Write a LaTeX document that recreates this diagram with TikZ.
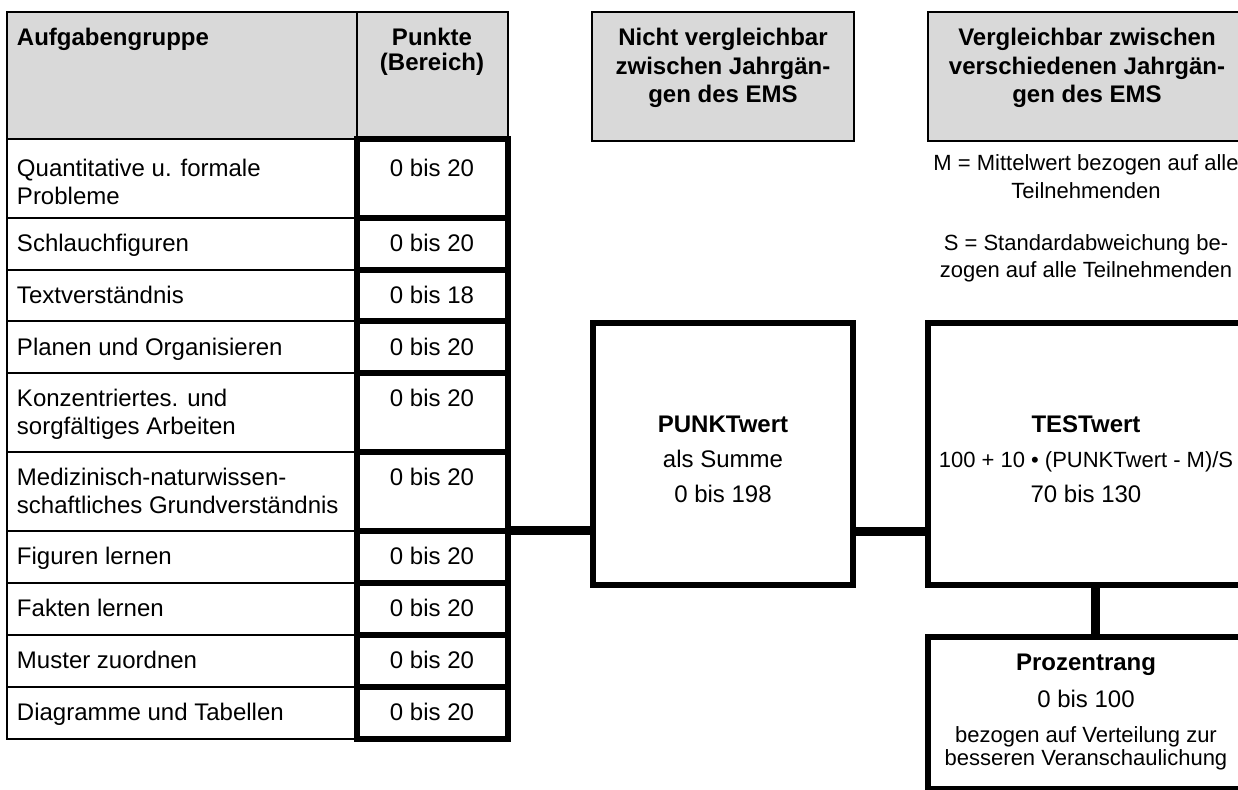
\documentclass[tikz,border=0pt]{standalone}
\usepackage{fontspec}
\setmainfont{Liberation Sans}
\definecolor{hdrgray}{RGB}{217,217,217}
\begin{document}
\begin{tikzpicture}[x=0.5pt,y=-0.5pt,
  every node/.style={inner sep=0pt, outer sep=0pt},
  hdrcell/.style={draw, line width=1pt, fill=hdrgray, rectangle},
  leftcell/.style={draw, line width=0.85pt, rectangle, minimum width=175pt},
  ptcell/.style={draw, line width=2.6pt, rectangle, minimum width=75.5pt},
  bigbox/.style={draw, line width=2.8pt, rectangle, fill=white},
  conn/.style={line width=4.5pt},
  txtreg/.style={font=\fontsize{12}{14}\selectfont},
  txtsmall/.style={font=\fontsize{11}{13}\selectfont},
  txtbold/.style={font=\fontsize{12}{14}\selectfont\bfseries},
]
\useasboundingbox (0,0) rectangle (1238,790);
\clip (0,0) rectangle (1238,790);

% header cells
\node[hdrcell, minimum width=175pt, minimum height=63.5pt] (hA) at (182,75.5) {};
\node[hdrcell, minimum width=75.5pt, minimum height=63.5pt] (hP) at (432.5,75.5) {};
\node[hdrcell, minimum width=131pt, minimum height=64.5pt] (hN) at (723,76.5) {};
\node[hdrcell, minimum width=159pt, minimum height=64.5pt] (hV) at (1087,76.5) {};

\node[txtbold, anchor=base west] (tA) at (17,46) {Aufgabengruppe};
\node[txtbold, anchor=base] (tP1) at (432,46) {Punkte};
\node[txtbold, anchor=base] (tP2) at (432,71) {(Bereich)};
\node[txtbold, anchor=base] (tN1) at (723,46) {Nicht vergleichbar};
\node[txtbold, anchor=base] (tN2) at (723,74.5) {zwischen Jahrgän-};
\node[txtbold, anchor=base] (tN3) at (723,103) {gen des EMS};
\node[txtbold, anchor=base] (tV1) at (1087,46) {Vergleichbar zwischen};
\node[txtbold, anchor=base] (tV2) at (1087,74.5) {verschiedenen Jahrgän-};
\node[txtbold, anchor=base] (tV3) at (1087,103) {gen des EMS};

% notes
\node[txtsmall, anchor=base] (m1) at (1086,170.5) {M = Mittelwert bezogen auf alle};
\node[txtsmall, anchor=base] (m2) at (1086,198.5) {Teilnehmenden};
\node[txtsmall, anchor=base] (s1) at (1086,250.5) {S = Standardabweichung be-};
\node[txtsmall, anchor=base] (s2) at (1086,277.5) {zogen auf alle Teilnehmenden};

% table rows
\foreach \i/\c/\h in {1/178.5/39.5, 2/244/26, 3/295.5/25.5, 4/347/26, 5/412.5/39.5,
                      6/491.5/39.5, 7/557/26, 8/609/26, 9/661/26, 10/713/26}{
  \node[leftcell, minimum height=\h pt] (L\i) at (182,\c) {};
}
\foreach \i/\c/\h in {1/178.5/39.5, 2/244/26, 3/295.5/25.5, 4/347/26, 5/412.5/39.5,
                      6/491.5/39.5, 7/557/26, 8/609/26, 9/661/26, 10/713/26}{
  \node[ptcell, minimum height=\h pt] (P\i) at (432.5,\c) {};
}

\node[txtreg, anchor=base west] (l1a) at (17,177) {Quantitative u. formale};
\node[txtreg, anchor=base west] (l1b) at (17,205) {Probleme};
\node[txtreg, anchor=base west] (l2) at (17,252) {Schlauchfiguren};
\node[txtreg, anchor=base west] (l3) at (17,304) {Textverständnis};
\node[txtreg, anchor=base west] (l4) at (17,356) {Planen und Organisieren};
\node[txtreg, anchor=base west] (l5a) at (17,407) {Konzentriertes. und};
\node[txtreg, anchor=base west] (l5b) at (17,435) {sorgfältiges Arbeiten};
\node[txtreg, anchor=base west] (l6a) at (17,486) {Medizinisch-naturwissen-};
\node[txtreg, anchor=base west] (l6b) at (17,514) {schaftliches Grundverständnis};
\node[txtreg, anchor=base west] (l7) at (17,565) {Figuren lernen};
\node[txtreg, anchor=base west] (l8) at (17,617) {Fakten lernen};
\node[txtreg, anchor=base west] (l9) at (17,669) {Muster zuordnen};
\node[txtreg, anchor=base west] (l10) at (17,721) {Diagramme und Tabellen};

\foreach \i/\b/\t in {1/177/0 bis 20, 2/252/0 bis 20, 3/304/0 bis 18, 4/356/0 bis 20,
                      5/407/0 bis 20, 6/486/0 bis 20, 7/565/0 bis 20, 8/617/0 bis 20,
                      9/669/0 bis 20, 10/721/0 bis 20}{
  \node[txtreg, anchor=base] (pt\i) at (432,\b) {\t};
}

% big boxes
\node[bigbox, minimum width=130pt, minimum height=131pt] (pw) at (723,454) {};
\node[bigbox, minimum width=159pt, minimum height=131pt] (tw) at (1087,454) {};
\node[bigbox, minimum width=159pt, minimum height=76pt] (pr) at (1087,713) {};

\node[txtbold, anchor=base] (pw1) at (723,433) {PUNKTwert};
\node[txtreg, anchor=base] (pw2) at (723,468) {als Summe};
\node[txtreg, anchor=base] (pw3) at (723,503) {0 bis 198};

\node[txtbold, anchor=base] (tw1) at (1086,433) {TESTwert};
\node[txtsmall, anchor=base] (tw2) at (1086,467.5) {100 + 10 • (PUNKTwert - M)/S};
\node[txtreg, anchor=base] (tw3) at (1086,503) {70 bis 130};

\node[txtbold, anchor=base] (pr1) at (1086,671) {Prozentrang};
\node[txtreg, anchor=base] (pr2) at (1086,708) {0 bis 100};
\node[txtsmall, anchor=base] (pr3) at (1086,743) {bezogen auf Verteilung zur};
\node[txtsmall, anchor=base] (pr4) at (1086,766) {besseren Veranschaulichung};

% connectors
\coordinate (cy) at (0,532);
\coordinate (vx) at (1095,0);
\draw[conn] (P6.south east) -- (P6.south east -| pw.west);
\draw[conn] (pw.east |- cy) -- (tw.west |- cy);
\draw[conn] (tw.south -| vx) -- (pr.north -| vx);
\end{tikzpicture}
\end{document}
